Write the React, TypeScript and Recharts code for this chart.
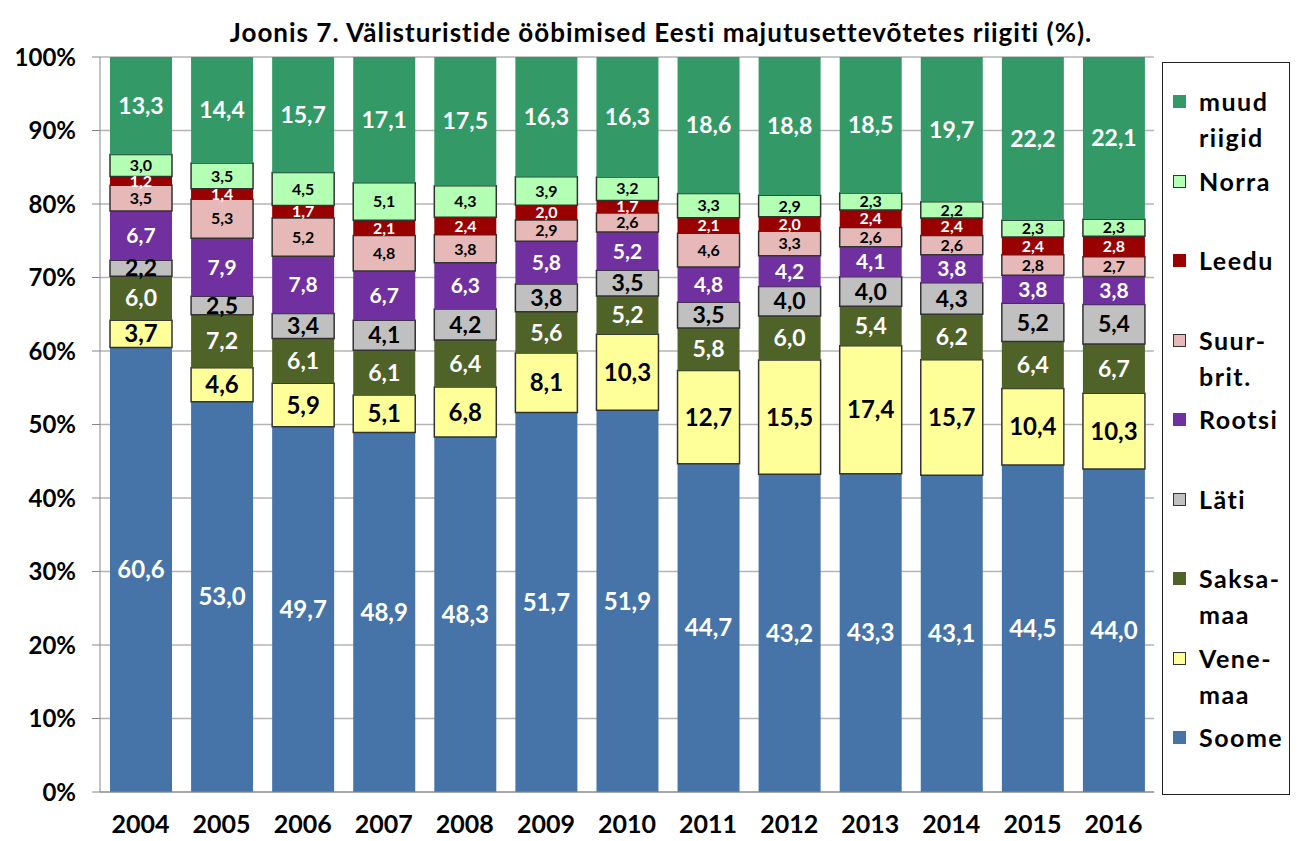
import { BarChart, Bar, XAxis, YAxis, CartesianGrid, LabelList, Legend } from "recharts";

const years = ["2004", "2005", "2006", "2007", "2008", "2009", "2010", "2011", "2012", "2013", "2014", "2015", "2016"];

const soome = [60.6, 53.0, 49.7, 48.9, 48.3, 51.7, 51.9, 44.7, 43.2, 43.3, 43.1, 44.5, 44.0];
const venemaa = [3.7, 4.6, 5.9, 5.1, 6.8, 8.1, 10.3, 12.7, 15.5, 17.4, 15.7, 10.4, 10.3];
const saksamaa = [6.0, 7.2, 6.1, 6.1, 6.4, 5.6, 5.2, 5.8, 6.0, 5.4, 6.2, 6.4, 6.7];
const lati = [2.2, 2.5, 3.4, 4.1, 4.2, 3.8, 3.5, 3.5, 4.0, 4.0, 4.3, 5.2, 5.4];
const rootsi = [6.7, 7.9, 7.8, 6.7, 6.3, 5.8, 5.2, 4.8, 4.2, 4.1, 3.8, 3.8, 3.8];
const suurbrit = [3.5, 5.3, 5.2, 4.8, 3.8, 2.9, 2.6, 4.6, 3.3, 2.6, 2.6, 2.8, 2.7];
const leedu = [1.2, 1.4, 1.7, 2.1, 2.4, 2.0, 1.7, 2.1, 2.0, 2.4, 2.4, 2.4, 2.8];
const norra = [3.0, 3.5, 4.5, 5.1, 4.3, 3.9, 3.2, 3.3, 2.9, 2.3, 2.2, 2.3, 2.3];
const muud = [13.3, 14.4, 15.7, 17.1, 17.5, 16.3, 16.3, 18.6, 18.8, 18.5, 19.7, 22.2, 22.1];

const yTicks = [0, 10, 20, 30, 40, 50, 60, 70, 80, 90, 100];

// bottom to top
const series = [
  { key: "soome", name: ["Soome"], values: soome, color: "#4674A8", text: "#fff", size: 24, border: false },
  { key: "venemaa", name: ["Vene-", "maa"], values: venemaa, color: "#FFFF99", text: "#000", size: 24, border: true },
  { key: "saksamaa", name: ["Saksa-", "maa"], values: saksamaa, color: "#4F6228", text: "#fff", size: 23, border: false },
  { key: "lati", name: ["Läti"], values: lati, color: "#C0C0C0", text: "#000", size: 23, border: true },
  { key: "rootsi", name: ["Rootsi"], values: rootsi, color: "#7030A0", text: "#fff", size: 21, border: false },
  { key: "suurbrit", name: ["Suur-", "brit."], values: suurbrit, color: "#E6B9B8", text: "#000", size: 16, border: true },
  { key: "leedu", name: ["Leedu"], values: leedu, color: "#990000", text: "#fff", size: 16, border: false },
  { key: "norra", name: ["Norra"], values: norra, color: "#B3FFB3", text: "#000", size: 16, border: true },
  { key: "muud", name: ["muud", "riigid"], values: muud, color: "#339966", text: "#fff", size: 23, border: false },
];

const data = years.map((year, i) => {
  const row: any = { year };
  series.forEach((s) => {
    row[s.key] = s.values[i];
  });
  return row;
});

const font = "Lato, 'Open Sans', sans-serif";

const fmt = (v: any) => Number(v).toFixed(1).replace(".", ",");

function renderLegend() {
  const items = [...series].reverse();
  return (
    <div
      style={{
        width: 128,
        height: 733,
        border: "1px solid #222",
        boxSizing: "border-box",
        position: "relative",
        background: "#fff",
        fontFamily: font,
      }}
    >
      {items.map((s, i) => (
        <div key={s.key} style={{ position: "absolute", left: 0, top: 20 + i * 79.5 }}>
          <div
            style={{
              position: "absolute",
              left: 10,
              top: 12,
              width: 13,
              height: 13,
              background: s.color,
              border: s.border ? "1px solid #333" : "none",
              boxSizing: "border-box",
            }}
          />
          <div
            style={{
              position: "absolute",
              left: 36,
              top: 0,
              fontSize: 25,
              fontWeight: 700,
              letterSpacing: 1.5,
              lineHeight: "36px",
              whiteSpace: "nowrap",
              color: "#000",
            }}
          >
            {s.name.map((n) => (
              <div key={n}>{n}</div>
            ))}
          </div>
        </div>
      ))}
    </div>
  );
}

export default function App() {
  return (
    <div
      style={{
        position: "relative",
        width: 1290,
        height: 834,
        border: "1px solid #8a8a8a",
        margin: "-1px 0 0 -1px",
        background: "#fff",
        fontFamily: font,
      }}
    >
      <div
        style={{
          position: "absolute",
          left: 0,
          width: 1306,
          top: 8,
          textAlign: "center",
          fontSize: 26,
          fontWeight: 700,
          letterSpacing: 1,
          color: "#000",
          zIndex: 2,
        }}
      >
        Joonis 7. Välisturistide ööbimised Eesti majutusettevõtetes riigiti (%).
      </div>
      <BarChart
        width={1282}
        height={834}
        data={data}
        stackOffset="expand"
        barSize={62}
        margin={{ top: 49, right: 136, left: 0, bottom: 0 }}
      >
        <CartesianGrid horizontal={true} vertical={false} stroke="#b4b4b4" strokeWidth={1.5} />
        <XAxis
          dataKey="year"
          height={50}
          tickLine={false}
          tickSize={0}
          tickMargin={23}
          axisLine={{ stroke: "#888" }}
          tick={{ fill: "#000", fontSize: 25, fontWeight: 700, fontFamily: font }}
        />
        <YAxis
          width={92}
          domain={[0, 1]}
          ticks={yTicks.map((t) => t / 100)}
          tickFormatter={(v: number) => Math.round(v * 100) + "%"}
          tickSize={8}
          tickMargin={16}
          tickLine={{ stroke: "#888" }}
          axisLine={{ stroke: "#888" }}
          tick={{ fill: "#000", fontSize: 24, fontWeight: 700, fontFamily: font }}
        />
        {series.map((s) => (
          <Bar
            key={s.key}
            dataKey={s.key}
            stackId="a"
            fill={s.color}
            stroke={s.border ? "#333" : "none"}
            strokeWidth={s.border ? 1.5 : 0}
            isAnimationActive={false}
          >
            <LabelList
              dataKey={s.key}
              position="center"
              formatter={fmt}
              fill={s.text}
              fontSize={s.size}
              fontWeight={700}
              fontFamily={font}
            />
          </Bar>
        ))}
        <Legend
          layout="horizontal"
          align="center"
          verticalAlign="middle"
          content={renderLegend}
          wrapperStyle={{ left: 1154, top: 54, width: 128, height: 733 }}
        />
      </BarChart>
    </div>
  );
}
